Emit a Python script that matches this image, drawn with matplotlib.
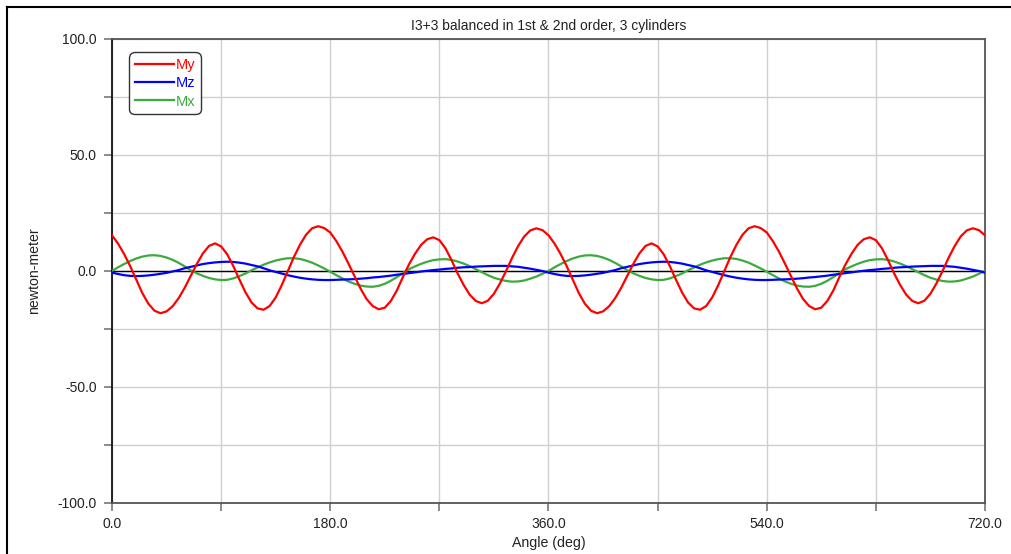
import numpy as np
import matplotlib
matplotlib.use("Agg")
import matplotlib.pyplot as plt
from matplotlib.lines import Line2D

plt.rcParams['font.family'] = ['Liberation Sans', 'DejaVu Sans']

# ---------------- data (every 5 deg) ----------------
angle = np.arange(0, 725, 5)

my = [15.4, 11.8, 7.3, 2.1, -3.7, -9.5, -14.1, -17.1, -18.2, -17.4, -15.2, -11.7, -7.2, -2.1,
      3.1, 7.6, 10.8, 11.9, 10.6, 7.2, 2.2, -3.6, -9.1, -13.5, -16.1, -16.7, -15.1, -11.4, -6.1,
      0.0, 6.0, 11.3, 15.6, 18.4, 19.3, 18.5, 16.6, 12.9, 8.4, 3.2, -2.2, -7.6, -12.1, -15.1,
      -16.5, -15.8, -12.9, -8.3, -2.5, 2.9, 7.5, 11.3, 13.7, 14.5, 13.3, 9.8, 4.7, -1.0, -6.0,
      -10.2, -12.9, -13.9, -12.8, -9.8, -5.3, 0.0, 5.7, 10.8, 14.9, 17.5, 18.4, 17.6, 15.4,
      11.8, 7.3, 2.1, -3.7, -9.5, -14.1, -17.1, -18.2, -17.4, -15.2, -11.7, -7.2, -2.1,
      3.1, 7.6, 10.8, 11.9, 10.6, 7.2, 2.2, -3.6, -9.1, -13.5, -16.1, -16.7, -15.1, -11.4, -6.1,
      0.0, 6.0, 11.3, 15.6, 18.4, 19.3, 18.5, 16.6, 12.9, 8.4, 3.2, -2.2, -7.6, -12.1, -15.1,
      -16.5, -15.8, -12.9, -8.3, -2.5, 2.9, 7.5, 11.3, 13.7, 14.5, 13.3, 9.8, 4.7, -1.0, -6.0,
      -10.2, -12.9, -13.9, -12.8, -9.8, -5.3, 0.0, 5.7, 10.8, 14.9, 17.5, 18.4, 17.6, 15.4]

mz = [-0.7, -1.3, -1.8, -2.1, -2.2, -2.1, -1.9, -1.6, -1.2, -0.8, -0.2, 0.4, 1.2, 1.8, 2.4,
      3.0, 3.4, 3.7, 3.9, 4.0, 3.9, 3.6, 3.2, 2.6, 2.0, 1.2, 0.3, -0.4, -1.1, -1.8, -2.4, -2.9,
      -3.3, -3.6, -3.8, -3.9, -3.9, -3.8, -3.7, -3.6, -3.5, -3.3, -3.1, -2.8, -2.6, -2.3, -2.0,
      -1.6, -1.3, -0.9, -0.6, -0.2, 0.1, 0.4, 0.6, 0.9, 1.1, 1.4, 1.6, 1.7, 1.9, 2.0, 2.1, 2.2,
      2.2, 2.2, 2.0, 1.8, 1.4, 1.0, 0.5, 0.0, -0.7,
      -1.3, -1.8, -2.1, -2.2, -2.1, -1.9, -1.6, -1.2, -0.8, -0.2, 0.4, 1.2, 1.8, 2.4,
      3.0, 3.4, 3.7, 3.9, 4.0, 3.9, 3.6, 3.2, 2.6, 2.0, 1.2, 0.3, -0.4, -1.1, -1.8, -2.4, -2.9,
      -3.3, -3.6, -3.8, -3.9, -3.9, -3.8, -3.7, -3.6, -3.5, -3.3, -3.1, -2.8, -2.6, -2.3, -2.0,
      -1.6, -1.3, -0.9, -0.6, -0.2, 0.1, 0.4, 0.6, 0.9, 1.1, 1.4, 1.6, 1.7, 1.9, 2.0, 2.1, 2.2,
      2.2, 2.2, 2.0, 1.8, 1.4, 1.0, 0.5, 0.0, -0.7]

mx = [0.0, 1.6, 3.0, 4.3, 5.4, 6.2, 6.7, 6.8, 6.5, 5.8, 4.8, 3.5, 2.0, 0.3, -1.0, -2.1, -3.0,
      -3.6, -3.9, -3.8, -3.2, -2.2, -1.1, 0.3, 1.5, 2.7, 3.7, 4.5, 5.1, 5.5, 5.5, 5.2, 4.5, 3.6,
      2.4, 1.1, -0.3, -1.8, -3.2, -4.5, -5.5, -6.3, -6.7, -6.8, -6.4, -5.5, -4.2, -2.6, -0.8,
      0.8, 2.0, 3.1, 4.0, 4.7, 5.0, 5.1, 4.8, 4.1, 3.2, 2.1, 0.8, -0.5, -1.8, -2.9, -3.7, -4.3,
      -4.6, -4.5, -4.1, -3.3, -2.4, -1.2, 0.0,
      1.6, 3.0, 4.3, 5.4, 6.2, 6.7, 6.8, 6.5, 5.8, 4.8, 3.5, 2.0, 0.3, -1.0, -2.1, -3.0,
      -3.6, -3.9, -3.8, -3.2, -2.2, -1.1, 0.3, 1.5, 2.7, 3.7, 4.5, 5.1, 5.5, 5.5, 5.2, 4.5, 3.6,
      2.4, 1.1, -0.3, -1.8, -3.2, -4.5, -5.5, -6.3, -6.7, -6.8, -6.4, -5.5, -4.2, -2.6, -0.8,
      0.8, 2.0, 3.1, 4.0, 4.7, 5.0, 5.1, 4.8, 4.1, 3.2, 2.1, 0.8, -0.5, -1.8, -2.9, -3.7, -4.3,
      -4.6, -4.5, -4.1, -3.3, -2.4, -1.2, 0.0]

series_names = ['My', 'Mz', 'Mx']
series_colors = ['#ff0000', '#0000ff', '#3caa3c']

x_major = [0, 180, 360, 540, 720]
x_major_labels = ['0.0', '180.0', '360.0', '540.0', '720.0']
x_minor = [90, 270, 450, 630]
y_major = [-100, -50, 0, 50, 100]
y_major_labels = ['-100.0', '-50.0', '0.0', '50.0', '100.0']
y_minor = [-75, -25, 25, 75]

title = 'I3+3 balanced in 1st & 2nd order, 3 cylinders'
xlabel = 'Angle (deg)'
ylabel = 'newton-meter'

# ---------------- figure ----------------
W, H = 1012, 554
fig = plt.figure(figsize=(W / 100, H / 100), dpi=100)
fig.patch.set_facecolor('white')

# outer frame (top and left visible)
fig.add_artist(Line2D([7 / W, 7 / W], [0, 1 - 7 / H], color='black', lw=1.5,
                      transform=fig.transFigure))
fig.add_artist(Line2D([7 / W, 1], [1 - 7 / H, 1 - 7 / H], color='black', lw=1.5,
                      transform=fig.transFigure))

ax = fig.add_axes([112 / W, 1 - 503 / H, 873 / W, 464 / H])
ax.set_xlim(0, 720)
ax.set_ylim(-100, 100)

ax.set_xticks(x_major)
ax.set_xticklabels(x_major_labels)
ax.set_xticks(x_minor, minor=True)
ax.set_yticks(y_major)
ax.set_yticklabels(y_major_labels)
ax.set_yticks(y_minor, minor=True)

ax.grid(which='both', color='#cfcfcf', lw=1.0)
ax.set_axisbelow(True)
ax.axhline(0, color='black', lw=1.0, zorder=1.5)

ax.tick_params(which='both', direction='out', length=6, width=1.2, color='#777777')
ax.tick_params(axis='both', labelsize=10, labelcolor='#222222')
ax.tick_params(axis='x', pad=4)
ax.tick_params(axis='y', pad=5)

for s in ['top', 'right', 'bottom']:
    ax.spines[s].set_color('#555555')
    ax.spines[s].set_linewidth(1.3)
ax.spines['left'].set_color('#111111')
ax.spines['left'].set_linewidth(1.3)

data = {'My': my, 'Mz': mz, 'Mx': mx}
handles = {}
for name, col in zip(['Mx', 'Mz', 'My'], [series_colors[2], series_colors[1], series_colors[0]]):
    h, = ax.plot(angle, data[name], color=col, lw=1.6, label=name, zorder=3)
    handles[name] = h

leg = ax.legend([handles[n] for n in series_names], series_names,
                loc='upper left', bbox_to_anchor=(0.0195, 0.972), borderaxespad=0,
                fontsize=10.5, labelcolor='linecolor', frameon=True, fancybox=True,
                handlelength=2.65, handletextpad=0.15, labelspacing=0.3,
                borderpad=0.4)
frame = leg.get_frame()
frame.set_edgecolor('#333333')
frame.set_linewidth(1.0)
frame.set_alpha(1)
frame.set_boxstyle('round,pad=0,rounding_size=0.4')

fig.text(548.5 / W, 1 - 26 / H, title, ha='center', va='center', fontsize=10, color='#222222')
fig.text(548.5 / W, 1 - 543 / H, xlabel, ha='center', va='center', fontsize=10.2, color='#222222')
fig.text(34 / W, 1 - 271 / H, ylabel, ha='center', va='center', rotation=90,
         fontsize=10.2, color='#222222')

fig.savefig('out.png', dpi=100, facecolor='white')
